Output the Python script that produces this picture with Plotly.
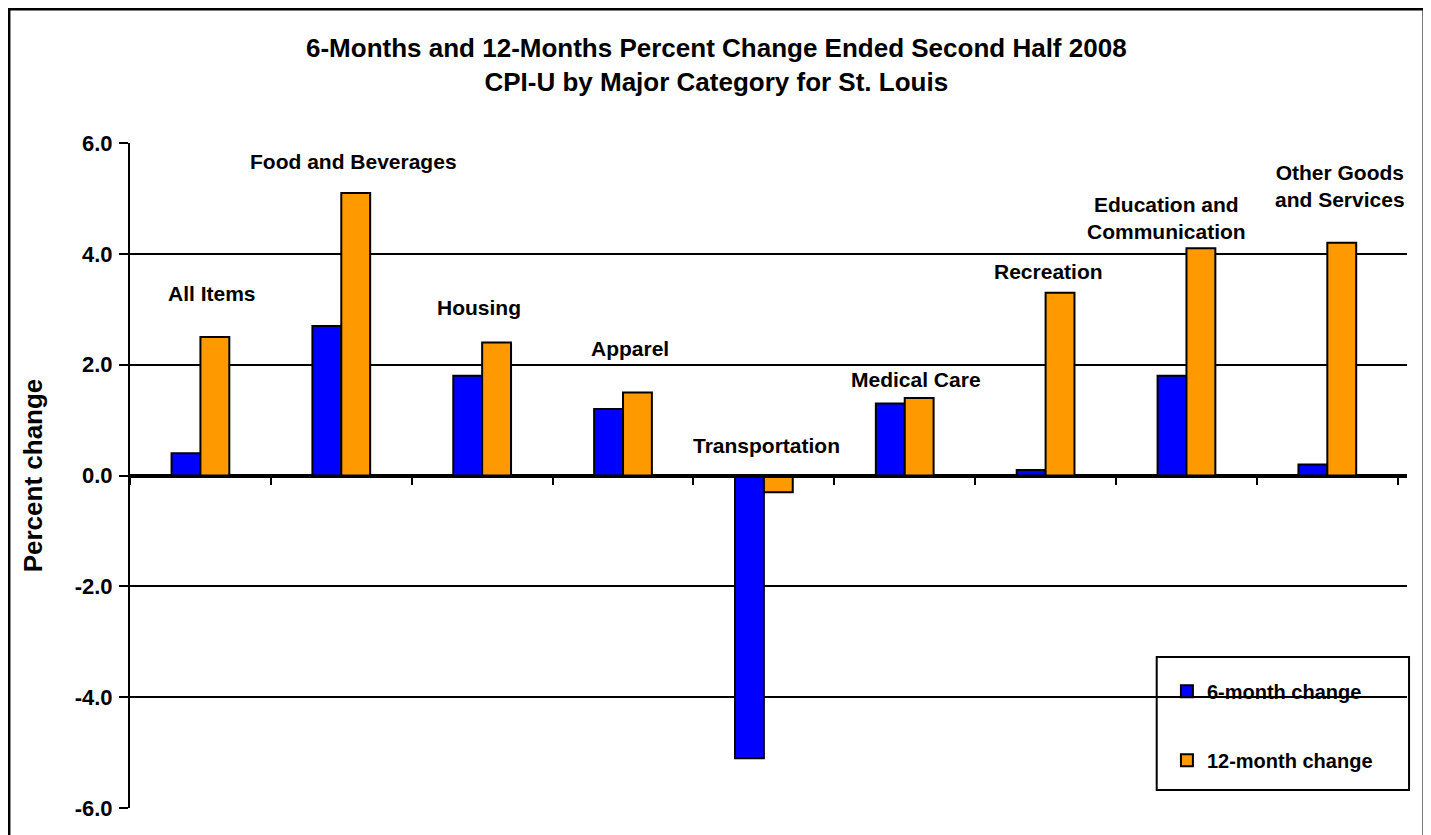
import plotly.graph_objects as go

categories = ["All Items", "Food and Beverages", "Housing", "Apparel", "Transportation",
              "Medical Care", "Recreation", "Education and Communication", "Other Goods and Services"]
six_month = [0.4, 2.7, 1.8, 1.2, -5.1, 1.3, 0.1, 1.8, 0.2]
twelve_month = [2.5, 5.1, 2.4, 1.5, -0.3, 1.4, 3.3, 4.1, 4.2]
tick_vals = [-6, -4, -2, 0, 2, 4, 6]
tick_text = ["-6.0", "-4.0", "-2.0", "0.0", "2.0", "4.0", "6.0"]

# category label text (with line breaks) and their placement (category-index x offset, y in data units)
label_text = ["All Items", "Food and Beverages", "Housing", "Apparel", "Transportation",
              "Medical Care", "Recreation", "Education and<br>Communication", "Other Goods<br>and Services"]
label_dx = [0.08, 0.09, -0.02, 0.05, 0.02, 0.08, 0.02, -0.14, 0.09]
label_y = [3.28, 5.66, 3.03, 2.30, 0.54, 1.73, 3.68, 4.65, 5.22]

FONT = "Liberation Sans, Arial, sans-serif"

fig = go.Figure()
fig.add_trace(go.Bar(x=categories, y=six_month, name="<b>6-month change</b>",
                     marker=dict(color="#0000FF", line=dict(color="black", width=2)),
                     legendgroup="a"))
fig.add_trace(go.Bar(x=categories, y=twelve_month, name="<b>12-month change</b>",
                     marker=dict(color="#FF9900", line=dict(color="black", width=2)),
                     legendgroup="b"))

annotations = []
for i, t in enumerate(label_text):
    annotations.append(dict(x=i + label_dx[i], y=label_y[i], xref="x", yref="y",
                            text="<b>" + t + "</b>",
                            showarrow=False, font=dict(family=FONT, size=21, color="black"),
                            align="center"))
annotations.append(dict(x=0.459, y=1.0, xref="paper", yref="paper", yanchor="bottom",
                        text="<b>6-Months and 12-Months Percent Change Ended Second Half 2008<br>CPI-U by Major Category for St. Louis</b>",
                        showarrow=False, yshift=44,
                        font=dict(family=FONT, size=26, color="black")))

fig.update_layout(
    width=1423, height=827,
    margin=dict(l=122, r=24, t=135, b=27),
    paper_bgcolor="white", plot_bgcolor="white",
    barmode="group", bargap=0.59, bargroupgap=0.0,
    font=dict(family=FONT, color="black"),
    annotations=annotations,
    showlegend=True,
    legend=dict(x=0.812, y=0.205, xanchor="left", yanchor="top",
                bgcolor="rgba(0,0,0,0)", borderwidth=0,
                font=dict(family=FONT, size=20, color="black"),
                tracegroupgap=40, itemwidth=30),
    shapes=[
        dict(type="rect", xref="paper", yref="paper", x0=0.804, x1=1.0016, y0=0.027, y1=0.227,
             line=dict(color="black", width=2), fillcolor="white", layer="below"),
        dict(type="rect", xref="paper", yref="paper", x0=-0.0948, x1=1.0133, y0=-0.06, y1=1.2015,
             line=dict(color="black", width=3), fillcolor="rgba(0,0,0,0)", layer="above"),
    ],
)
fig.update_xaxes(type="category", anchor="free", position=0.5, showline=True, linecolor="black",
                 linewidth=3, ticks="outside", tickson="boundaries", ticklen=7, tickwidth=2,
                 tickcolor="black", showticklabels=False, showgrid=False, zeroline=False)
fig.update_yaxes(range=[-6, 6], tickvals=tick_vals, ticktext=["<b>" + t + "</b>" for t in tick_text],
                 showline=True, linecolor="black", linewidth=2, ticks="outside", ticklen=9,
                 tickwidth=2, tickcolor="black", showgrid=True, gridcolor="black", gridwidth=1.5,
                 zeroline=True, zerolinecolor="black", zerolinewidth=3,
                 ticklabelstandoff=2,
                 tickfont=dict(family=FONT, size=22, color="black"),
                 title=dict(text="<b>Percent change</b>", standoff=25,
                            font=dict(family=FONT, size=26, color="black")))

fig.write_html("out.html")
